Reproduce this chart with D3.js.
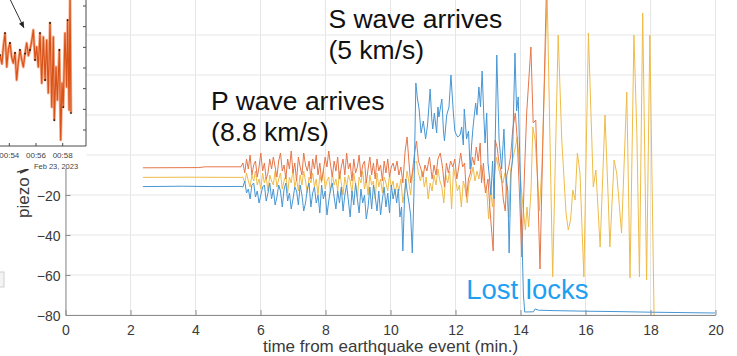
<!DOCTYPE html>
<html><head><meta charset="utf-8">
<script src="https://cdn.jsdelivr.net/npm/d3@7"></script>
<style>body{margin:0;background:#fff}svg{display:block}text{font-family:"Liberation Sans",Arial,sans-serif}</style>
</head><body><svg id="c" width="737" height="356"></svg>
<script>
// ---------- data ----------
const xTicks = [0,2,4,6,8,10,12,14,16,18,20];
const yTicks = [-80,-60,-40,-20,0,20,40,60,80];
const yTickLabelsShown = [-80,-60,-40,-20];   // others are hidden behind the inset
const xLabel = "time from earthquake event (min.)";
const yLabel = "piezo \\";
const noiseStart = 5.46, noiseStep = 0.055;

const blueBefore = [[2.38,-15.8],[3.6,-15.6],[4.6,-15.8],[5.40,-15.7]];
const blueNoise = [-16,-13,-19,-17,-22,-15,-14,-21,-18,-24,-20,-16,-15,-23,-19,-14,-22,-17,-25,-21,
 -15,-18,-26,-17,-14,-23,-19,-27,-22,-16,-18,-25,-15,-20,-28,-24,-17,-14,-26,-19,
 -16,-24,-20,-29,-15,-22,-18,-30,-23,-17,-14,-21,-27,-18,-24,-16,-28,-20,-15,-23,
 -31,-18,-25,-14,-22,-29,-17,-24,-20,-32,-26,-16,-27,-15,-21,-28,-18,-30,-22,-16,
 -26,-19,-29,-15,-22,-17];
const blueAfter = [[10.19,-24],[10.24,-17],[10.29,-31],[10.34,-26],[10.38,-48],[10.43,-22],[10.47,-12],[10.51,-18],[10.57,-24],[10.62,-30],[10.67,-49],[10.72,-20],[10.78,36],[10.83,28],[10.88,23],[10.94,11],[11.01,17],[11.08,8],[11.14,15],[11.22,33],[11.27,18],[11.30,13],[11.35,21],[11.42,11],[11.46,24],[11.49,19],[11.58,28],[11.63,12],[11.66,7],[11.73,20],[11.80,24],[11.86,40],[11.93,22],[11.98,12],[12.03,10],[12.07,9],[12.14,10],[12.19,14],[12.24,5],[12.27,23],[12.34,8],[12.40,12],[12.45,-7],[12.50,6],[12.54,14],[12.62,26],[12.66,20],[12.72,34],[12.77,24],[12.82,42],[12.87,20],[12.91,6],[12.96,21],[13.0,-4],[13.05,-12],[13.09,-20],[13.14,-3],[13.19,-22],[13.27,50],[13.34,8],[13.42,-7],[13.49,13],[13.54,-9],[13.61,-18],[13.65,-49],[13.71,-9],[13.75,-3],[13.80,31],[13.83,51],[13.88,22],[13.93,29],[13.98,-2],[14.05,-45],[14.09,-70],[14.13,-78.5],[14.40,-78.4],[14.45,-77],[14.55,-77.6],[15,-77.8],[16,-78.1],[17,-78.3],[18,-78.6],[19,-78.8],[20,-79]];

const orangeBefore = [[2.38,-6.4],[4.1,-6.3],[4.3,-5.9],[5.40,-5.9]];
const orangeNoise = [-4,-9,-2,-7,0,-10,-5,-3,-11,-6,1,-8,-4,-12,-9,-2,-7,-1,-6,-11,
 -3,1,-8,-5,-12,-2,-7,2,-9,-4,-13,-1,-6,-10,1,-5,-8,-3,-12,-2,
 -7,0,-10,-4,-13,-8,-1,-6,2,-5,-11,-3,-8,-1,-12,-6,-2,-10,1,-7,
 -4,-13,-2,-9,-6,0,-11,-5,-3,-14,-7,-1,-10,-4,-12,-2,-8,-5,-13,-3,
 -9,-2,-11,-6,-4,-8];
const orangeAfter = [[10.2,-3],[10.26,-10],[10.32,-6],[10.38,-14],[10.45,2],[10.51,9],[10.57,-4],[10.62,-14],[10.67,-9],[10.74,1],[10.80,7],[10.86,-3],[10.92,-6],[11.0,-11],[11.06,-5],[11.12,-8],[11.20,-1],[11.28,-12],[11.34,-5],[11.40,-10],[11.46,-2],[11.53,1],[11.60,-6],[11.66,-16],[11.72,-4],[11.78,-9],[11.85,-3],[11.92,-6],[11.98,-2],[12.04,-12],[12.10,-6],[12.16,1],[12.22,-6],[12.28,-4],[12.34,-21],[12.40,-12],[12.46,-9],[12.52,-1],[12.58,-5],[12.64,4],[12.70,-3],[12.76,6],[12.80,-14],[12.86,-4],[12.92,-19],[13.0,-12],[13.05,-25],[13.16,-48],[13.22,7.5],[13.28,4],[13.34,-4],[13.40,-8],[13.47,-22],[13.53,-28],[13.58,-10],[13.64,-6],[13.70,0],[13.76,12.5],[13.84,21],[13.90,8],[13.96,-16],[14.04,-51],[14.12,-10],[14.19,21],[14.32,54],[14.39,16],[14.47,17.5],[14.60,-57],[14.67,-6],[14.81,92]];

const yellowBefore = [[2.38,-11.2],[3.8,-11.1],[5.40,-11.2]];
const yellowNoise = [-11,-14,-9,-13,-16,-10,-13,-8,-15,-12,-17,-9,-14,-11,-18,-10,-13,-15,-8,-16,
 -12,-9,-17,-13,-10,-19,-11,-14,-7,-16,-12,-18,-10,-15,-8,-13,-19,-11,-14,-9,
 -16,-12,-20,-10,-14,-7,-17,-13,-11,-19,-9,-15,-12,-18,-8,-14,-20,-11,-16,-10,
 -13,-19,-9,-15,-21,-11,-14,-8,-17,-12,-20,-10,-15,-13,-22,-9,-16,-12,-19,-11,
 -14,-18,-10,-16,-13,-20];
const yellowAfter = [[10.2,-14],[10.26,-18],[10.32,-12],[10.38,-24],[10.45,-16],[10.51,-8],[10.57,-14],[10.62,-20],[10.68,-9],[10.74,-4],[10.80,-3],[10.86,-9],[10.92,-13],[10.98,-8],[11.04,-16],[11.10,-11],[11.16,-22],[11.22,-14],[11.28,-18],[11.34,-10],[11.40,-15],[11.46,-7],[11.52,-13],[11.58,-16],[11.64,-24],[11.70,-10],[11.76,-14],[11.82,-8],[11.88,-27],[11.94,-6],[12.0,-12],[12.06,-18],[12.12,-15],[12.18,-26],[12.24,-13],[12.30,-17],[12.36,-24],[12.42,-14],[12.48,-11],[12.54,-6],[12.60,-13],[12.66,-8],[12.72,-12],[12.78,-5],[12.84,-10],[12.90,-16],[12.96,-17.5],[13.02,-32],[13.08,-18],[13.14,-26],[13.20,-10],[13.26,-1],[13.32,-6],[13.40,-12],[13.46,-14],[13.52,-9],[13.58,-20],[13.64,-31],[13.70,-7.5],[13.76,-2],[13.83,3],[13.90,9],[13.96,-2.5],[14.02,-16],[14.08,-26],[14.15,-37.5],[14.20,-26],[14.25,-36],[14.32,-19],[14.38,14],[14.45,7.5],[14.52,-10],[14.58,-28],[14.66,-6],[14.82,80],[14.99,-61],[15.16,60],[15.27,7.5],[15.40,-29],[15.47,-37.5],[15.54,-32.5],[15.61,-17.5],[15.68,-22.5],[15.75,1],[15.83,-9],[15.95,-61],[16.09,61],[16.24,-16],[16.32,-7.5],[16.45,-46],[16.60,20],[16.70,-22.5],[16.75,-46],[16.88,-2.5],[16.96,-9],[17.11,-39],[17.27,31.5],[17.37,-61.5],[17.49,60],[17.58,11],[17.66,-61],[17.76,71],[17.88,-62.5],[17.98,60],[18.11,-80]];

const annotations = [
  {text:"S wave arrives", t:8.09, v:63.5},
  {text:"(5 km/s)", t:8.09, v:48},
  {text:"P wave arrives", t:4.48, v:22.5},
  {text:"(8.8 km/s)", t:4.48, v:7}
];
const lostLabel = {text:"Lost locks", t:12.33, v:-72};

// inset (screenshot of the original record)
const insetXTicks = [54,56,58];
const insetXLabels = ["00:54","00:56","00:58"];
const insetYTicks = [-3,-2,-1,0,1,2,3];
const insetDate = "Feb 23, 2023";
const insetData = [[53.30,0.63],[53.45,0.2],[53.55,1.0],[53.68,1.69],[53.81,0.05],[53.93,0.9],[54.05,1.21],[54.18,0.5],[54.30,0.24],[54.43,0.73],[54.55,-0.58],[54.68,0.3],[54.80,0.87],[54.93,0.4],[55.05,0.05],[55.18,0.7],[55.30,1.21],[55.43,0.6],[55.55,0.87],[55.68,1.3],[55.80,1.84],[55.93,0.39],[56.05,1.02],[56.17,0.05],[56.30,1.69],[56.43,-0.73],[56.55,1.5],[56.68,-0.58],[56.80,1.35],[56.92,-1.21],[57.05,2.18],[57.18,-1.89],[57.30,1.5],[57.37,-2.52],[57.50,0.05],[57.60,-1.55],[57.75,0.87],[57.85,-3.48],[57.95,-0.73],[58.04,-1.89],[58.17,1.69],[58.30,-0.92],[58.37,2.32],[58.48,-2.03],[58.55,3.6],[58.62,-2.18]];
const insetArrow = [[54.0,3.4],[55.1,1.94]];

// ---------- drawing ----------
const svg = d3.select("#c");
const x = d3.scaleLinear().domain([0,20]).range([65.5,715.5]);
const y = d3.scaleLinear().domain([-80,80]).range([315,-5]);

const build = (b,n,a) => b.concat(n.map((v,i)=>[noiseStart+i*noiseStep, v]), a);
const series = [
  {data: build(yellowBefore, yellowNoise, yellowAfter), color:"#efbb48"},
  {data: build(orangeBefore, orangeNoise, orangeAfter), color:"#e6774a"},
  {data: build(blueBefore, blueNoise, blueAfter), color:"#4796d4"}
];

// grid
const grid = svg.append("g").attr("stroke","#e6e6e6").attr("stroke-width",1);
grid.selectAll(".gx").data(xTicks).join("line")
  .attr("x1",d=>x(d)).attr("x2",d=>x(d)).attr("y1",y(-80)).attr("y2",y(80));
grid.selectAll(".gy").data(yTicks).join("line")
  .attr("x1",x(0)).attr("x2",x(20)).attr("y1",d=>y(d)).attr("y2",d=>y(d));

// lines
svg.append("defs").append("clipPath").attr("id","clip").append("rect")
  .attr("x",x(0)).attr("y",y(80)-20).attr("width",x(20)-x(0)).attr("height",y(-80)-y(80)+20);
const line = d3.line().x(d=>x(d[0])).y(d=>y(d[1]));
svg.append("g").attr("clip-path","url(#clip)").selectAll("path").data(series).join("path")
  .attr("d",d=>line(d.data)).attr("fill","none").attr("stroke",d=>d.color)
  .attr("stroke-width",1).attr("stroke-linejoin","round");

// axes
const axCol = "#8c8c8c", txtCol = "#3a3a3a";
const gx = svg.append("g").attr("transform",`translate(0,${y(-80)})`)
  .call(d3.axisBottom(x).tickValues(xTicks).tickSizeInner(-5).tickSizeOuter(0).tickPadding(10));
const gy = svg.append("g").attr("transform",`translate(${x(0)},0)`)
  .call(d3.axisLeft(y).tickValues(yTicks).tickSizeInner(-5).tickSizeOuter(0).tickPadding(5)
    .tickFormat(d=>yTickLabelsShown.includes(d)?d3.format("d")(d):""));
[gx,gy].forEach(g=>{
  g.select(".domain").attr("stroke",axCol);
  g.selectAll(".tick line").attr("stroke",axCol);
  g.selectAll(".tick text").attr("fill",txtCol).attr("font-size",14).attr("font-family","Liberation Sans, Arial, sans-serif");
});
gy.selectAll(".tick text").attr("dy","0.36em");
gy.selectAll(".tick text").filter(d=>!yTickLabelsShown.includes(d)).remove();

svg.append("text").attr("x",(x(0)+x(20))/2).attr("y",352).attr("text-anchor","middle")
  .attr("font-size",17).attr("fill",txtCol).text(xLabel);
svg.append("text").attr("transform","translate(28.5,218) rotate(-90)")
  .attr("font-size",17).attr("fill",txtCol).text(yLabel);

// annotations
svg.selectAll(".ann").data(annotations).join("text")
  .attr("x",d=>x(d.t)).attr("y",d=>y(d.v)).attr("font-size",26.5).attr("fill","#111").text(d=>d.text);
svg.append("text").attr("x",x(lostLabel.t)).attr("y",y(lostLabel.v)).attr("font-size",27.5)
  .attr("fill","#1e9ff2").text(lostLabel.text);

// small grey box at left edge
svg.append("rect").attr("x",-2).attr("y",272).attr("width",6).attr("height",15)
  .attr("fill","#f4f4f4").attr("stroke","#cfcfcf");

// inset
const ins = svg.append("g");
ins.append("rect").attr("x",0).attr("y",0).attr("width",86.5).attr("height",169).attr("fill","#fff");
const ix = d3.scaleLinear().domain([54,58]).range([9.3,62.7]);
const iy = d3.scaleLinear().domain([-3,3]).range([130,6]);
const iline = d3.line().x(d=>ix(d[0])).y(d=>iy(d[1]));
ins.append("defs").append("clipPath").attr("id","iclip").append("rect")
  .attr("x",0).attr("y",0).attr("width",86).attr("height",146);
const ig = ins.append("g").attr("clip-path","url(#iclip)");
ig.append("path").attr("d",iline(insetData)).attr("fill","none").attr("stroke","#f6ad8b").attr("stroke-width",2.8).attr("stroke-linejoin","round");
ig.append("path").attr("d",iline(insetData)).attr("fill","none").attr("stroke","#d95319").attr("stroke-width",1.2).attr("stroke-linejoin","round");
ig.selectAll("circle").data(insetData.filter((d,i)=>i%3===0)).join("circle")
  .attr("cx",d=>ix(d[0])).attr("cy",d=>iy(d[1])).attr("r",0.9).attr("fill","#111");
// inset axes
ins.append("path").attr("d",`M0,146H86V0`).attr("fill","none").attr("stroke","#4a4a4a").attr("stroke-width",1);
ins.selectAll(".iyt").data(insetYTicks).join("line")
  .attr("x1",83).attr("x2",86).attr("y1",d=>iy(d)).attr("y2",d=>iy(d)).attr("stroke","#4a4a4a");
ins.selectAll(".ixt").data(insetXTicks).join("line")
  .attr("x1",d=>ix(d)).attr("x2",d=>ix(d)).attr("y1",143).attr("y2",146).attr("stroke","#4a4a4a");
ins.selectAll(".ixl").data(insetXTicks).join("text")
  .attr("x",d=>ix(d)).attr("y",157.5).attr("text-anchor","middle").attr("font-size",8).attr("fill","#444")
  .text((d,i)=>insetXLabels[i]);
ins.append("text").attr("x",56).attr("y",168.5).attr("text-anchor","middle").attr("font-size",7.5).attr("fill","#444").text(insetDate);
// arrow
const ad = insetArrow.map(d=>[ix(d[0]),iy(d[1])]);
ins.append("line").attr("x1",ad[0][0]).attr("y1",ad[0][1]).attr("x2",ad[1][0]).attr("y2",ad[1][1]).attr("stroke","#333").attr("stroke-width",1);
const ang = Math.atan2(ad[1][1]-ad[0][1], ad[1][0]-ad[0][0]);
const ah = 6, aw = 2.6;
const tip = ad[1];
const p1 = [tip[0]-ah*Math.cos(ang)+aw*Math.sin(ang), tip[1]-ah*Math.sin(ang)-aw*Math.cos(ang)];
const p2 = [tip[0]-ah*Math.cos(ang)-aw*Math.sin(ang), tip[1]-ah*Math.sin(ang)+aw*Math.cos(ang)];
ins.append("path").attr("d",`M${tip}L${p1}L${p2}Z`).attr("fill","#222");
// small dark stroke below inset
ins.append("line").attr("x1",20).attr("y1",173).attr("x2",28).attr("y2",169.5).attr("stroke","#333").attr("stroke-width",1.8);
</script></body></html>
